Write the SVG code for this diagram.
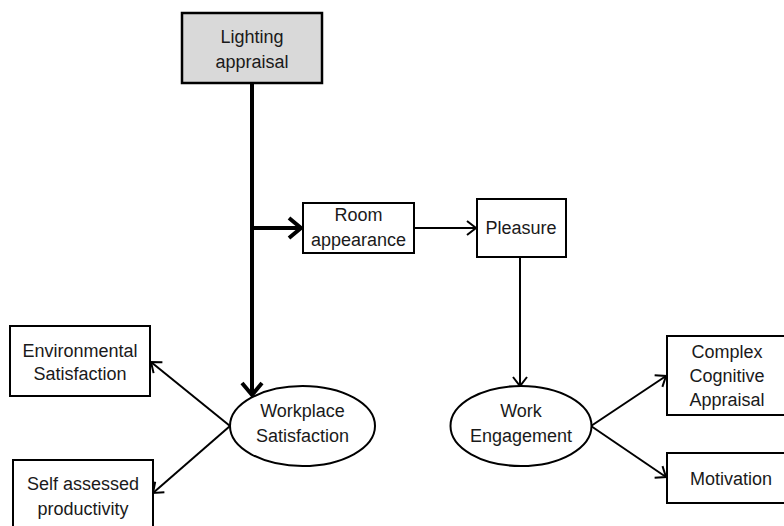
<svg xmlns="http://www.w3.org/2000/svg" width="784" height="526" viewBox="0 0 784 526">
<defs>
<style>
.box{fill:#fff;stroke:#000;stroke-width:2}
.gray{fill:#d9d9d9;stroke:#000;stroke-width:2.5}
.lbl{font-family:"Liberation Sans",Arial,sans-serif;font-size:18px;fill:#1a1a1a;text-anchor:middle}
.thin{stroke:#000;stroke-width:2;fill:none;marker-end:url(#ah)}
.thick{stroke:#000;stroke-width:4;fill:none;marker-end:url(#ahb)}
</style>
<marker id="ah" markerUnits="userSpaceOnUse" markerWidth="14" markerHeight="18" refX="11" refY="9" orient="auto" viewBox="0 0 14 18">
<path d="M2,2 L11,9 L2,16" fill="none" stroke="#000" stroke-width="2"/>
</marker>
<marker id="ahb" markerUnits="userSpaceOnUse" markerWidth="20" markerHeight="26" refX="15" refY="13" orient="auto" viewBox="0 0 20 26">
<path d="M3,3 L15,13 L3,23" fill="none" stroke="#000" stroke-width="4"/>
</marker>
</defs>
<rect width="784" height="526" fill="#fff"/>
<g id="connectors">
<line class="thick" x1="252" y1="83" x2="252" y2="395"/>
<line class="thick" x1="252" y1="228" x2="301" y2="228"/>
<line class="thin" x1="414" y1="228" x2="476" y2="228"/>
<line class="thin" x1="520" y1="257" x2="520" y2="386"/>
<line class="thin" x1="230" y1="426" x2="151" y2="362"/>
<line class="thin" x1="230" y1="426" x2="153" y2="493"/>
<line class="thin" x1="591" y1="426" x2="666" y2="376"/>
<line class="thin" x1="591" y1="426" x2="666" y2="477"/>
</g>
<g id="lighting">
<rect class="gray" x="182" y="13" width="140" height="70"/>
<text class="lbl" x="252" y="43">Lighting</text>
<text class="lbl" x="252" y="68">appraisal</text>
</g>
<g id="room">
<rect class="box" x="303" y="203" width="111" height="50"/>
<text class="lbl" x="358.5" y="221">Room</text>
<text class="lbl" x="358.5" y="246">appearance</text>
</g>
<g id="pleasure">
<rect class="box" x="477" y="199" width="89" height="58"/>
<text class="lbl" x="521" y="234">Pleasure</text>
</g>
<g id="workplace">
<ellipse class="box" cx="302.5" cy="426" rx="72.5" ry="40"/>
<text class="lbl" x="302.5" y="417">Workplace</text>
<text class="lbl" x="302.5" y="442">Satisfaction</text>
</g>
<g id="work">
<ellipse class="box" cx="521" cy="426" rx="70.5" ry="40"/>
<text class="lbl" x="521" y="417">Work</text>
<text class="lbl" x="521" y="442">Engagement</text>
</g>
<g id="env">
<rect class="box" x="10" y="326" width="140" height="70"/>
<text class="lbl" x="80" y="357">Environmental</text>
<text class="lbl" x="80" y="380">Satisfaction</text>
</g>
<g id="self">
<rect class="box" x="13" y="460" width="140" height="80"/>
<text class="lbl" x="83" y="490">Self assessed</text>
<text class="lbl" x="83" y="515">productivity</text>
</g>
<g id="complex">
<rect class="box" x="667" y="336" width="120" height="79"/>
<text class="lbl" x="727" y="358">Complex</text>
<text class="lbl" x="727" y="382">Cognitive</text>
<text class="lbl" x="727" y="406">Appraisal</text>
</g>
<g id="motivation">
<rect class="box" x="667" y="453" width="130" height="50"/>
<text class="lbl" x="731" y="485">Motivation</text>
</g>
</svg>
